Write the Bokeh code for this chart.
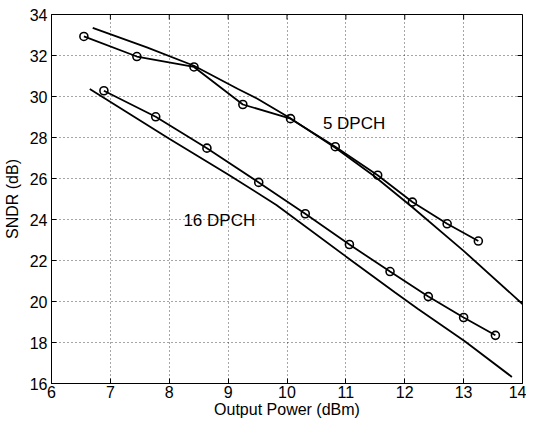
import math
from bokeh.plotting import figure
from bokeh.models import FixedTicker, Range1d, ColumnDataSource
from bokeh.core.properties import value
from bokeh.embed import file_html
from bokeh.resources import INLINE

# data
x5_meas = [6.55, 7.45, 8.42, 9.25, 10.06, 10.82, 11.54, 12.13, 12.72, 13.25]
y5_meas = [32.93, 31.95, 31.44, 29.61, 28.92, 27.55, 26.16, 24.85, 23.79, 22.95]
x5_sim = [6.70, 7.62, 8.42, 9.16, 9.49, 10.05, 10.82, 11.49, 12.13, 13.0, 14.0]
y5_sim = [33.35, 32.40, 31.50, 30.38, 29.9, 28.95, 27.5, 26.1, 24.6, 22.47, 19.88]
x16_meas = [6.89, 7.77, 8.64, 9.52, 10.31, 11.06, 11.75, 12.40, 13.0, 13.54]
y16_meas = [30.28, 29.01, 27.48, 25.81, 24.28, 22.78, 21.46, 20.24, 19.22, 18.35]
x16_sim = [6.65, 8.0, 9.0, 9.82, 11.0, 11.83, 12.22, 13.02, 13.82]
y16_sim = [30.37, 27.94, 26.2, 24.71, 22.2, 20.45, 19.65, 18.06, 16.32]
label_text = ["5 DPCH", "16 DPCH"]
label_x = [10.61, 8.24]
label_y = [28.67, 23.96]
x_ticks = [6, 7, 8, 9, 10, 11, 12, 13, 14]
y_ticks = [16, 18, 20, 22, 24, 26, 28, 30, 32, 34]
X_MIN, X_MAX = 6, 14
Y_MIN, Y_MAX = 16, 34

FONT = "Liberation Sans"

p = figure(width=526, height=420, output_backend="svg", toolbar_location=None,
           x_range=Range1d(X_MIN, X_MAX), y_range=Range1d(Y_MIN, Y_MAX),
           min_border_left=51, min_border_right=4, min_border_top=14, min_border_bottom=24)
p.background_fill_color = "white"
p.border_fill_color = "white"
p.outline_line_color = "black"
p.outline_line_width = 1

for ax in (p.xaxis[0], p.yaxis[0]):
    ax.major_tick_in = 5
    ax.major_tick_out = 0
    ax.minor_tick_line_color = None
    ax.axis_line_color = "black"
    ax.major_tick_line_color = "black"
    ax.major_label_text_font = FONT
    ax.major_label_text_font_size = "16px"
    ax.major_label_text_color = "black"
    ax.axis_label_text_font = FONT
    ax.axis_label_text_font_size = "16px"
    ax.axis_label_text_font_style = "normal"
    ax.axis_label_text_color = "black"

p.xaxis[0].ticker = FixedTicker(ticks=x_ticks)
p.yaxis[0].ticker = FixedTicker(ticks=y_ticks)
p.xaxis[0].axis_label = "Output Power (dBm)"
p.yaxis[0].axis_label = "SNDR (dB)"
p.xaxis[0].major_label_standoff = 2
p.xaxis[0].axis_label_standoff = 0
p.yaxis[0].major_label_standoff = 4
p.yaxis[0].axis_label_standoff = 6

# inward ticks on the top and right edges of the box
p.ray(x=x_ticks, y=[Y_MAX] * len(x_ticks), length=5, length_units="screen",
      angle=-math.pi / 2, line_color="black", line_width=1)
p.ray(x=[X_MAX] * len(y_ticks), y=y_ticks, length=5, length_units="screen",
      angle=math.pi, line_color="black", line_width=1)

p.xgrid.ticker = FixedTicker(ticks=x_ticks)
p.ygrid.ticker = FixedTicker(ticks=y_ticks)
for g in (p.xgrid[0], p.ygrid[0]):
    g.grid_line_color = "black"
    g.grid_line_alpha = 0.7
    g.grid_line_dash = "1 3"
    g.grid_line_width = 1

lw = 1.8
p.line(x5_sim, y5_sim, line_color="black", line_width=lw)
p.line(x16_sim, y16_sim, line_color="black", line_width=lw)
p.line(x5_meas, y5_meas, line_color="black", line_width=lw)
p.line(x16_meas, y16_meas, line_color="black", line_width=lw)
p.scatter(x5_meas, y5_meas, marker="circle", size=8, fill_color="white", fill_alpha=0,
          line_color="black", line_width=1.6)
p.scatter(x16_meas, y16_meas, marker="circle", size=8, fill_color="white", fill_alpha=0,
          line_color="black", line_width=1.6)

src = ColumnDataSource(dict(x=label_x, y=label_y, t=label_text))
p.text(x="x", y="y", text="t", source=src, text_font=value(FONT), text_font_size="17px",
       text_align="left", text_baseline="middle", text_color="black")

open("out.html", "w").write(file_html(p, INLINE))
